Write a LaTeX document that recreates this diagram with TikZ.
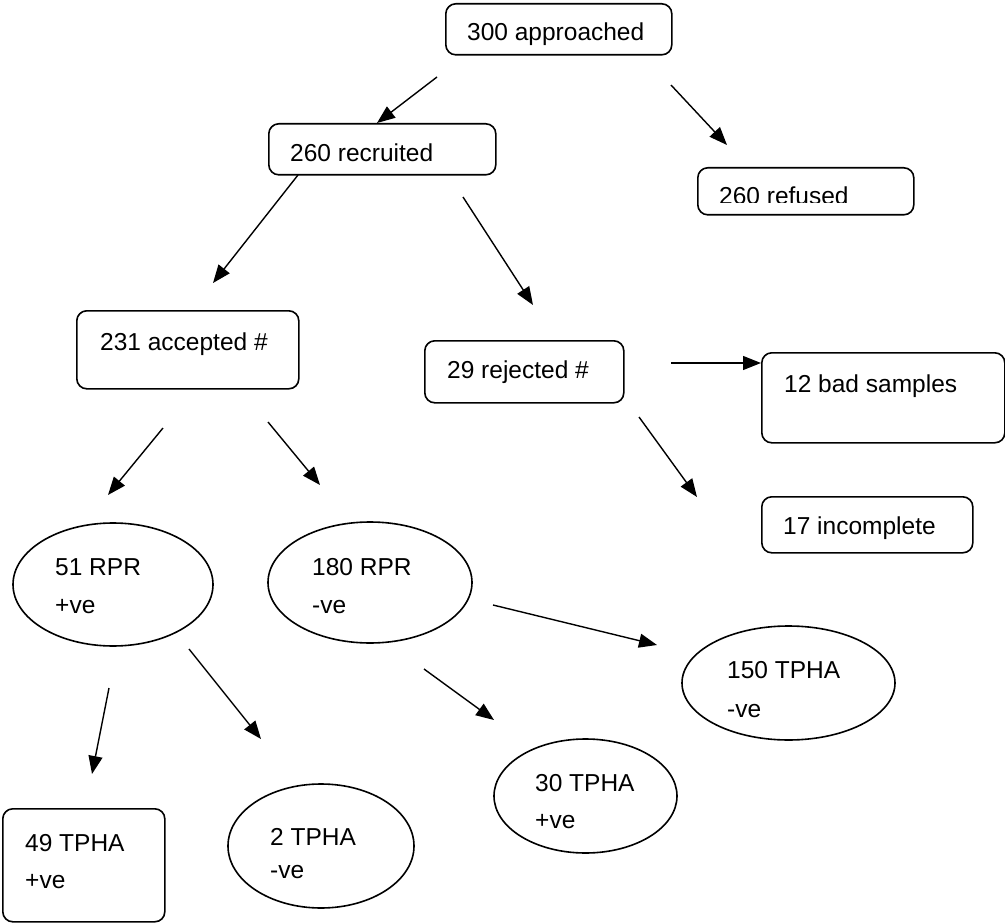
\documentclass[tikz,border=0pt]{standalone}
\usepackage{fontspec}
\setmainfont{Liberation Sans}
\usetikzlibrary{arrows.meta,shapes.geometric}

\tikzset{
    box/.style={draw, line width=1.6pt, rounded corners=10pt, inner sep=0pt, anchor=north west},
    oval/.style={draw, ellipse, line width=1.6pt, inner sep=0pt},
    lbl/.style={anchor=base west, inner sep=0pt, font=\fontsize{24.5}{29}\selectfont},
    flow/.style={line width=1.4pt, -{Triangle[length=18pt,width=14pt]}}
}

\begin{document}
\begin{tikzpicture}[x=1pt, y=-1pt]
    \useasboundingbox (0,0) rectangle (1005,923);

    % Screening boxes
    \node[box, minimum width=226pt, minimum height=51pt] (approached) at (445,3) {};
    \node[box, minimum width=227pt, minimum height=51pt] (recruited) at (268,123) {};
    \node[box, minimum width=216pt, minimum height=47pt] (refused) at (697,167) {};
    \node[box, minimum width=222pt, minimum height=78pt] (accepted) at (76,310) {};
    \node[box, minimum width=199pt, minimum height=62pt] (rejected) at (424,340) {};
    \node[box, minimum width=243pt, minimum height=90pt] (badsamples) at (761,352) {};
    \node[box, minimum width=211pt, minimum height=56pt] (incomplete) at (761,496) {};
    \node[box, minimum width=162pt, minimum height=113pt] (tphapos49) at (2,808) {};

    % Test result ovals
    \node[oval, minimum width=200pt, minimum height=123pt] (rprpos) at (113,584.5) {};
    \node[oval, minimum width=204pt, minimum height=121pt] (rprneg) at (370,582.5) {};
    \node[oval, minimum width=213pt, minimum height=114pt] (tphaneg150) at (788.5,683) {};
    \node[oval, minimum width=183pt, minimum height=114pt] (tphapos30) at (585.5,796) {};
    \node[oval, minimum width=186pt, minimum height=124pt] (tphaneg2) at (321,846) {};

    % Labels
    \node[lbl] (approachedtxt) at (467,41) {300 approached};
    \node[lbl] (recruitedtxt) at (290,162) {260 recruited};
    \begin{scope}
        \clip (697,167) rectangle (913,203);
        \node[lbl] (refusedtxt) at (719,205) {260 refused};
    \end{scope}
    \node[lbl] (acceptedtxt) at (100,350) {231 accepted \#};
    \node[lbl] (rejectedtxt) at (447,378) {29 rejected \#};
    \node[lbl] (badsamplestxt) at (784,392) {12 bad samples};
    \node[lbl] (incompletetxt) at (783,534) {17 incomplete};
    \node[lbl] (rprpostxt) at (55,575) {51 RPR};
    \node[lbl] (rprpossign) at (55,613) {+ve};
    \node[lbl] (rprnegtxt) at (312,575) {180 RPR};
    \node[lbl] (rprnegsign) at (312,613) {-ve};
    \node[lbl] (tphaneg150txt) at (727,678) {150 TPHA};
    \node[lbl] (tphaneg150sign) at (727,717) {-ve};
    \node[lbl] (tphapos30txt) at (535,791) {30 TPHA};
    \node[lbl] (tphapos30sign) at (535,828) {+ve};
    \node[lbl] (tphapos49txt) at (25,851) {49 TPHA};
    \node[lbl] (tphapos49sign) at (25,888) {+ve};
    \node[lbl] (tphaneg2txt) at (270,845) {2 TPHA};
    \node[lbl] (tphaneg2sign) at (270,878) {-ve};

    % Arrow ends
    \coordinate (a1s) at (437,77);  \coordinate (a1e) at (377,123);
    \coordinate (a2s) at (671,85);  \coordinate (a2e) at (727,145);
    \coordinate (a3s) at (298,175); \coordinate (a3e) at (213,283);
    \coordinate (a4s) at (463,197); \coordinate (a4e) at (533,305);
    \coordinate (a5s) at (163,428); \coordinate (a5e) at (108,495);
    \coordinate (a6s) at (268,422); \coordinate (a6e) at (320,485);
    \coordinate (a7s) at (671,363); \coordinate (a7e) at (761,363);
    \coordinate (a8s) at (639,417); \coordinate (a8e) at (697,497);
    \coordinate (a9s) at (109,688); \coordinate (a9e) at (92,774);
    \coordinate (a10s) at (189,649); \coordinate (a10e) at (261,739);
    \coordinate (a11s) at (424,669); \coordinate (a11e) at (494,720);
    \coordinate (a12s) at (493,605); \coordinate (a12e) at (657,645);

    % Draw arrows
    \foreach \i in {1,...,12}
        \draw[flow] (a\i s) -- (a\i e);

\end{tikzpicture}
\end{document}
